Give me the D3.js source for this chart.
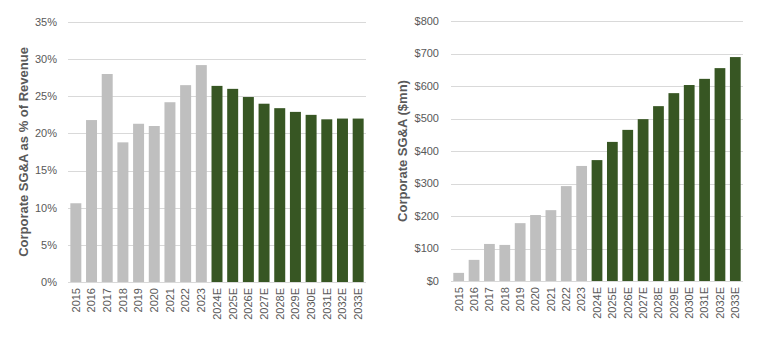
<!DOCTYPE html>
<html><head><meta charset="utf-8">
<script src="https://cdn.jsdelivr.net/npm/d3@7"></script>
<style>body{margin:0;background:#fff}svg{display:block}</style>
</head><body>
<svg id="c" width="763" height="339"></svg>
<script>
const years = ["2015","2016","2017","2018","2019","2020","2021","2022","2023","2024E","2025E","2026E","2027E","2028E","2029E","2030E","2031E","2032E","2033E"];
const pctValues = [10.6,21.8,28.0,18.8,21.3,21.0,24.2,26.5,29.2,26.4,26.0,24.9,24.0,23.4,22.9,22.5,21.9,22.0,22.0];
const dollarValues = [25,65,114,111,178,203,218,292,354,372,428,465,498,538,578,603,622,655,689];
const pctTicks = [0,5,10,15,20,25,30,35];
const dollarTicks = [0,100,200,300,400,500,600,700,800];
const leftTitle = "Corporate SG&A as % of Revenue";
const rightTitle = "Corporate SG&A ($mn)";

const svg = d3.select("#c");
const FONT = "'Liberation Sans', Arial, sans-serif";
const TXT = "#595959", GRID = "#D9D9D9", GRAY = "#BFBFBF", GREEN = "#375623";

function panel(opt){
  const g = svg.append("g");
  const x = d3.scaleBand().domain(years).range([opt.x0, opt.x1]).paddingInner(0.3).paddingOuter(0.15);
  const y = d3.scaleLinear().domain([0, opt.max]).range([opt.yb, opt.yt]);
  // grid
  g.append("g").selectAll("line").data(opt.ticks).join("line")
    .attr("x1", opt.x0).attr("x2", opt.x1)
    .attr("y1", d => Math.round(y(d)) + 0.5).attr("y2", d => Math.round(y(d)) + 0.5)
    .attr("stroke", GRID).attr("stroke-width", 1);
  // y labels
  g.append("g").selectAll("text").data(opt.ticks).join("text")
    .attr("x", opt.labelX).attr("y", d => y(d)).attr("dy", "0.35em")
    .attr("text-anchor", "end").attr("font-family", FONT).attr("font-size", 11)
    .attr("fill", TXT).text(opt.fmt);
  // bars
  g.append("g").selectAll("rect").data(opt.values).join("rect")
    .attr("x", (d,i) => x(years[i])).attr("width", x.bandwidth())
    .attr("y", d => y(d)).attr("height", d => y(0) - y(d))
    .attr("fill", (d,i) => years[i].endsWith("E") ? GREEN : GRAY);
  // x labels
  g.append("g").selectAll("text").data(years).join("text")
    .attr("transform", d => `translate(${x(d) + x.bandwidth()/2},${opt.yb + 6}) rotate(-90)`)
    .attr("dy", "0.35em").attr("text-anchor", "end")
    .attr("font-family", FONT).attr("font-size", 11).attr("fill", TXT).text(d => d);
  // title
  g.append("text")
    .attr("transform", `translate(${opt.titleX},${(opt.yb + opt.yt)/2}) rotate(-90)`)
    .attr("text-anchor", "middle").attr("dy", "0.35em")
    .attr("font-family", FONT).attr("font-weight", "bold").attr("font-size", 13)
    .attr("fill", TXT).text(opt.title);
}

panel({x0:68, x1:366, yt:22, yb:282, max:35, ticks:pctTicks, values:pctValues,
  fmt: d => d + "%", labelX:57, titleX:23, title:leftTitle});
panel({x0:451, x1:743, yt:21, yb:281, max:800, ticks:dollarTicks, values:dollarValues,
  fmt: d => "$" + d, labelX:439, titleX:402, title:rightTitle});
</script>
</body></html>
